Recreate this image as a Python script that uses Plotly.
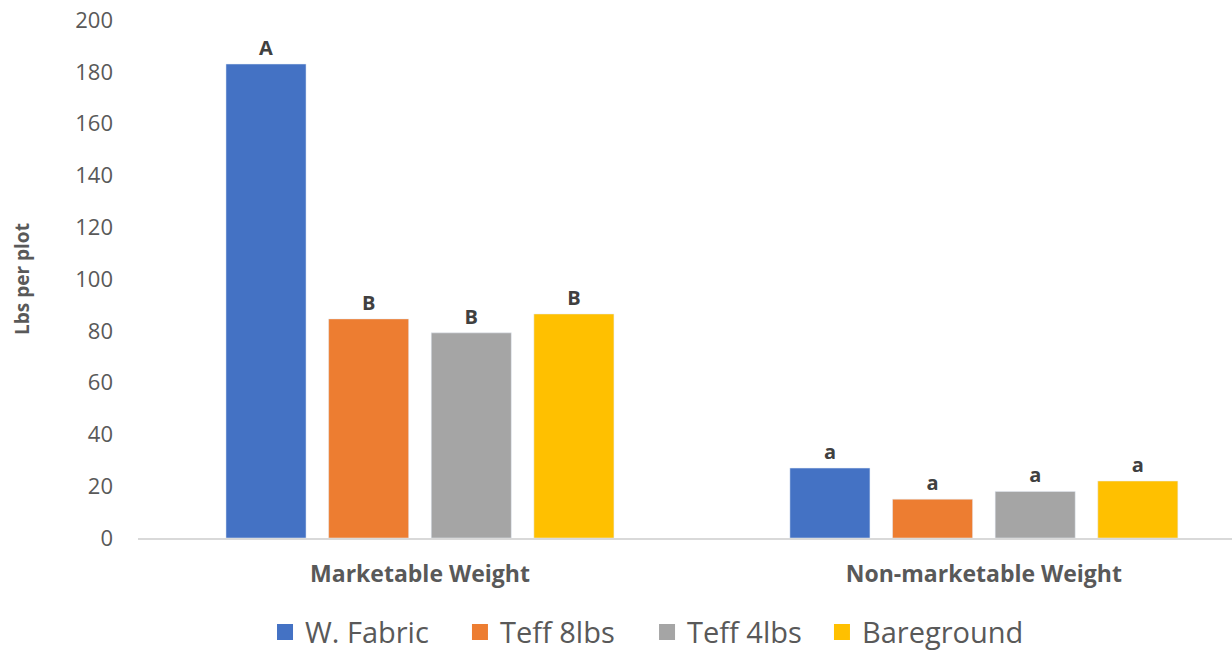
import plotly.graph_objects as go

# Data
categories = ["Marketable Weight", "Non-marketable Weight"]
series = ["W. Fabric", "Teff 8lbs", "Teff 4lbs", "Bareground"]
values = {
    "W. Fabric": [183, 27],
    "Teff 8lbs": [84.6, 15],
    "Teff 4lbs": [79.2, 18],
    "Bareground": [86.5, 22],
}
letters = {
    "W. Fabric": ["A", "a"],
    "Teff 8lbs": ["B", "a"],
    "Teff 4lbs": ["B", "a"],
    "Bareground": ["B", "a"],
}
colors = ["#4472C4", "#ED7D31", "#A5A5A5", "#FFC000"]

# one legend box per series so the spacing can follow the original
legend_ids = ["legend", "legend2", "legend3", "legend4"]
legend_x = [0.1161, 0.2943, 0.4653, 0.6252]

fig = go.Figure()

for name, col, lg in zip(series, colors, legend_ids):
    fig.add_trace(go.Bar(
        x=categories,
        y=values[name],
        name=name,
        marker_color=col,
        text=letters[name],
        textposition="outside",
        textfont=dict(size=20, color="#404040", family="Open Sans", weight="bold"),
        cliponaxis=False,
        showlegend=False,
    ))
    fig.add_trace(go.Scatter(
        x=[None], y=[None], mode="markers", name=name, legend=lg,
        marker=dict(symbol="square", size=18, color=col),
    ))

legend_style = dict(
    orientation="h", xanchor="left", yref="container", y=0.029, yanchor="middle",
    font=dict(size=29, color="#595959"), itemwidth=30, itemsizing="trace",
    bgcolor="rgba(0,0,0,0)",
)

fig.update_layout(
    width=1232,
    height=651,
    margin=dict(l=138, r=0, t=20, b=113),
    plot_bgcolor="white",
    paper_bgcolor="white",
    barmode="group",
    bargap=0.272,
    bargroupgap=0.22,
    font=dict(family="Open Sans", color="#595959"),
    xaxis=dict(
        range=[-0.5, 1.44],
        showline=True, linecolor="#D9D9D9", linewidth=1.5,
        ticks="", tickfont=dict(size=23, color="#595959", weight="bold"),
        ticklabelstandoff=15,
    ),
    yaxis=dict(
        range=[0, 200], dtick=20, showgrid=False, zeroline=False,
        tickfont=dict(size=22, color="#595959"),
        ticklabelstandoff=24,
        title=dict(text="Lbs per plot", font=dict(size=19, color="#595959", weight="bold"), standoff=40),
    ),
)
for lg, lx in zip(legend_ids, legend_x):
    fig.update_layout({lg: dict(legend_style, x=lx)})

fig.write_html("out.html", config={"displayModeBar": False},
               post_script="document.body.style.margin='0';")
